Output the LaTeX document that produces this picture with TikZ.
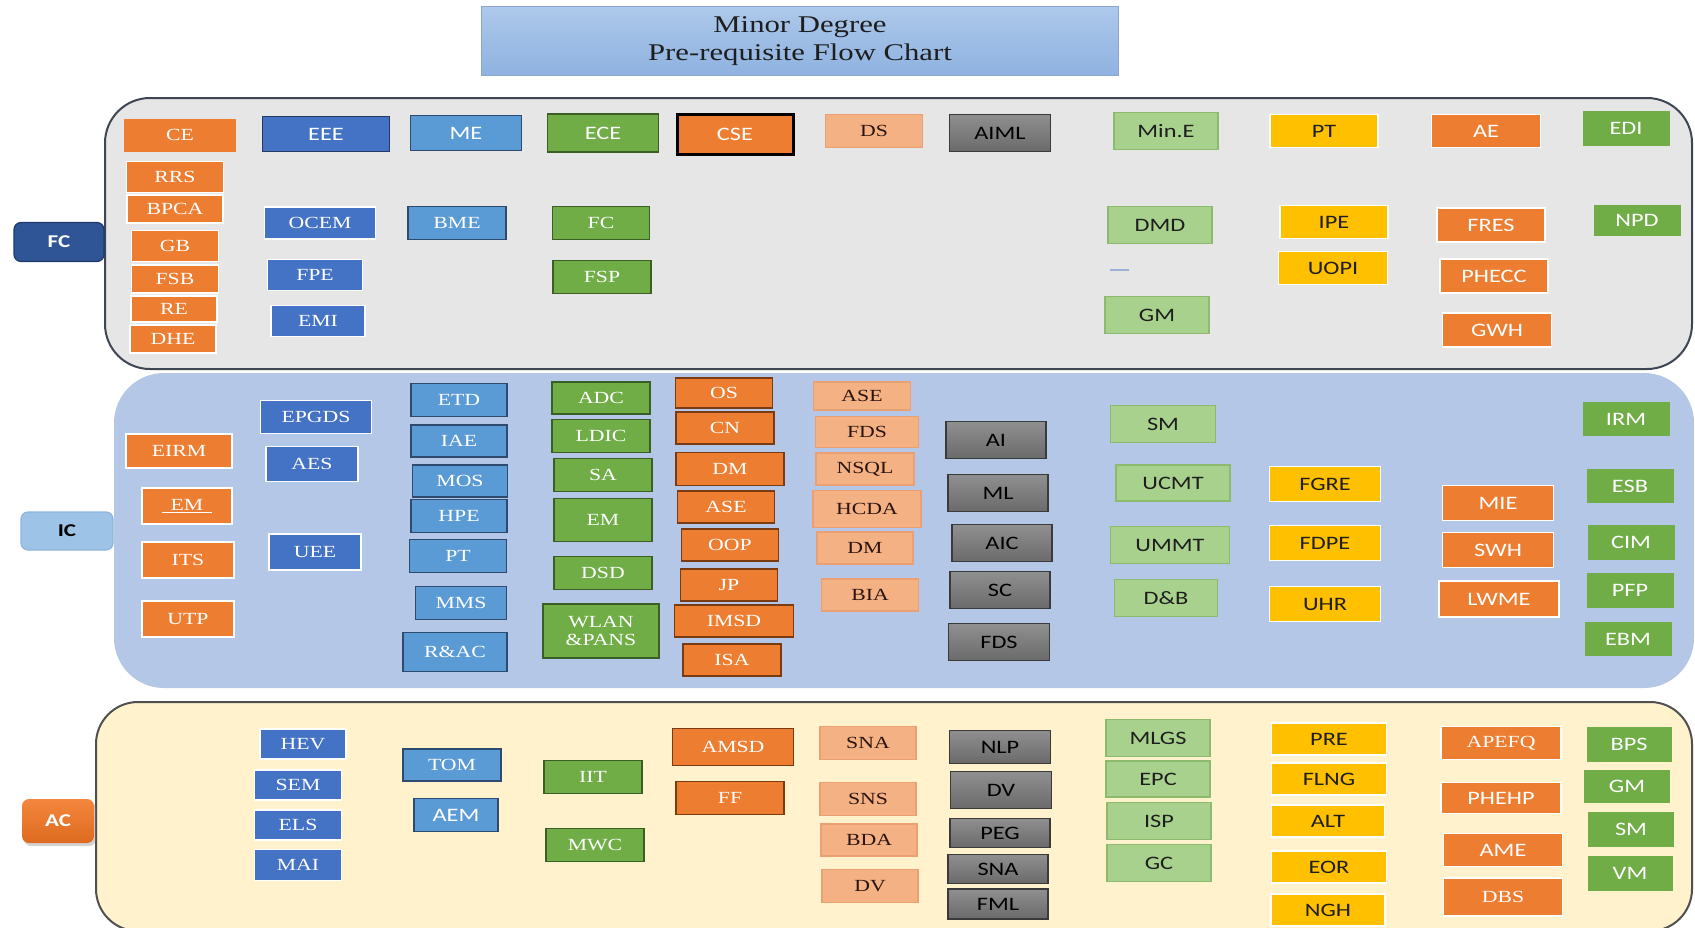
\documentclass[tikz,border=0pt]{standalone}
\usepackage{fontspec}
\usepackage{graphicx}
\setmainfont{Liberation Serif}
\newfontfamily\calfont{Carlito}
\usetikzlibrary{shadows}
\definecolor{Org}{HTML}{ED7D31}
\definecolor{OrgDk}{HTML}{7A3B12}
\definecolor{Blu}{HTML}{4472C4}
\definecolor{BluDk}{HTML}{26395F}
\definecolor{MBlu}{HTML}{5B9BD5}
\definecolor{MBluDk}{HTML}{2E4A6E}
\definecolor{Grn}{HTML}{70AD47}
\definecolor{GrnDk}{HTML}{3B5E25}
\definecolor{Pch}{HTML}{F4B183}
\definecolor{PchDk}{HTML}{EBA074}
\definecolor{PchTxt}{HTML}{2A1410}
\definecolor{GryT}{HTML}{8F8F8F}
\definecolor{GryB}{HTML}{6A6A6A}
\definecolor{GryDk}{HTML}{3A3A3A}
\definecolor{LGrn}{HTML}{A9D18E}
\definecolor{LGrnDk}{HTML}{8CBB6E}
\definecolor{Ylw}{HTML}{FFC000}
\definecolor{Ink}{HTML}{1E1E1E}
\definecolor{FCback}{HTML}{E7E6E6}
\definecolor{FCline}{HTML}{3E4654}
\definecolor{ICback}{HTML}{B4C7E7}
\definecolor{ACback}{HTML}{FFF2CC}
\definecolor{ACline}{HTML}{505050}
\definecolor{TitT}{HTML}{ADC8EA}
\definecolor{TitB}{HTML}{8EB2E0}
\definecolor{TitLine}{HTML}{8AA6CF}
\definecolor{FCblue}{HTML}{2F5597}
\definecolor{FCdk}{HTML}{1F3A68}
\definecolor{ICl}{HTML}{9DC3E6}
\definecolor{ICld}{HTML}{8FB4DA}
\definecolor{ACt}{HTML}{F4873E}
\definecolor{ACb}{HTML}{DD6A1E}
\definecolor{Dash}{HTML}{9BB0D8}
\newcommand{\wtxt}[1]{\scalebox{1.28}[1]{#1}}
\newcommand{\serifsz}{\fontsize{17}{19}\selectfont}
\newcommand{\sanssz}{\calfont\fontsize{19}{21}\selectfont}

\begin{document}
\begin{tikzpicture}[x=1pt,y=-1pt,
    bx/.style={rectangle,inner sep=0pt,line width=1.2pt},
    sf/.style={bx,font=\serifsz},
    ss/.style={bx,font=\sanssz},
    orw/.style={sf,fill=Org,draw=white,text=white},
    ord/.style={sf,fill=Org,draw=OrgDk,text=white},
    orsw/.style={ss,fill=Org,draw=white,text=white},
    blw/.style={sf,fill=Blu,draw=white,text=white},
    bld/.style={sf,fill=MBlu,draw=MBluDk,text=white},
    grd/.style={sf,fill=Grn,draw=GrnDk,text=white},
    pch/.style={sf,fill=Pch,draw=PchDk,text=PchTxt},
    gry/.style={ss,top color=GryT,bottom color=GryB,draw=GryDk,text=black},
    lgr/.style={ss,fill=LGrn,draw=LGrnDk,text=Ink},
    ylw/.style={ss,fill=Ylw,draw=white,text=Ink},
    gns/.style={ss,fill=Grn,text=white},
    lbl/.style={rectangle,rounded corners=7,inner sep=0pt,line width=1.2pt,font=\calfont\bfseries\fontsize{18}{20}\selectfont},
    titlebx/.style={rectangle,draw=TitLine,line width=0.8pt,top color=TitT,bottom color=TitB,align=center,text=Ink,font=\fontsize{24}{27.5}\selectfont}]
    \useasboundingbox (0,0) rectangle (1695,927);
    \draw [fill=FCback,draw=FCline,line width=2pt,rounded corners=45] (105,98) rectangle (1692,369);
    \fill [ICback,rounded corners=50] (114,373) rectangle (1694,688);
    \draw [fill=ACback,draw=ACline,line width=2pt,rounded corners=42] (96,702) rectangle (1692,931);
    \draw [Dash,line width=1.5pt] (1110,270) -- (1129,270);
    \node [titlebx,minimum width=637,minimum height=69] (title) at (800,41) {\wtxt{Minor Degree}\\ \wtxt{Pre-requisite Flow Chart}};
    \node [lbl,fill=FCblue,draw=FCdk,text=white,minimum width=90,minimum height=39] (fc) at (59,242) {\wtxt{FC}};
    \node [lbl,fill=ICl,draw=ICld,text=black,minimum width=92,minimum height=38] (ic) at (67,531) {\wtxt{IC}};
    \node [lbl,top color=ACt,bottom color=ACb,text=white,drop shadow={opacity=0.35,shadow xshift=2pt,shadow yshift=-3pt},minimum width=72,minimum height=44] (ac) at (58,821) {\wtxt{AC}};
    \node [orw,draw=none,minimum width=112,minimum height=33] (ce) at (180,135) {\wtxt{CE}};
    \foreach \nm/\x/\y/\w/\h/\t in {rrs/175/177/97/31/RRS,bpca/175/209/96/28/BPCA,gb/175/246/87/31/GB,fsb/175/279/87/28/FSB,re/174/309/86/26/RE,dhe/173/339/86/28/DHE,eirm/179/451/106/34/EIRM,its/188/560/92/36/ITS,utp/188/619/92/36/UTP,apefq/1501/743/120/33/APEFQ,dbs/1503/897/119/38/DBS}
        \node [orw,minimum width=\w,minimum height=\h] (\nm) at (\x,\y) {\wtxt{\t}};
    \node [orw,minimum width=90,minimum height=36] (emo) at (187,506) {\wtxt{\underline{\hspace{7pt}EM\hspace{7pt}}}};
    \foreach \nm/\x/\y/\w/\h/\t in {ocem/320/223/111/32/OCEM,fpe/315/275/95/31/FPE,emi/318/321/94/31/EMI,epgds/316/417/111/33/EPGDS,aes/312/464/92/35/AES,uee/315/552/92/36/UEE,hev/303/744/86/30/HEV,sem/298/785/87/30/SEM,els/298/825/87/30/ELS,mai/298/865/87/31/MAI}
        \node [blw,minimum width=\w,minimum height=\h] (\nm) at (\x,\y) {\wtxt{\t}};
    \node [ss,fill=Blu,draw=BluDk,text=white,minimum width=127,minimum height=35] (eee) at (326,134) {\wtxt{EEE}};
    \node [bld,font=\sanssz,minimum width=111,minimum height=35] (me) at (466,133) {\wtxt{ME}};
    \node [bld,font=\sanssz,minimum width=84,minimum height=33] (aem) at (456,815) {\wtxt{AEM}};
    \foreach \nm/\x/\y/\w/\h/\t in {bme/457/223/98/33/BME,etd/459/400/96/33/ETD,iae/459/441/96/32/IAE,mos/460/481/95/32/MOS,hpe/459/516/96/33/HPE,pti/458/556/97/33/PT,mms/461/603/91/33/MMS,rac/455/652/104/39/R\&AC,tom/452/765/98/32/TOM}
        \node [bld,minimum width=\w,minimum height=\h] (\nm) at (\x,\y) {\wtxt{\t}};
    \node [grd,font=\sanssz,minimum width=111,minimum height=38] (ece) at (603,133) {\wtxt{ECE}};
    \foreach \nm/\x/\y/\w/\h/\t in {fcg/601/223/97/33/FC,fsp/602/277/98/33/FSP,adc/601/398/98/32/ADC,ldic/601/436/98/33/LDIC,sa/603/475/98/33/SA,emg/603/520/98/43/EM,dsd/603/573/98/33/DSD,iit/593/777/98/33/IIT,mwc/595/845/98/33/MWC}
        \node [grd,minimum width=\w,minimum height=\h] (\nm) at (\x,\y) {\wtxt{\t}};
    \node [grd,align=center,font=\fontsize{17}{18}\selectfont,minimum width=116,minimum height=54] (wlan) at (601,631) {\wtxt{WLAN}\\ \wtxt{\&PANS}};
    \node [ss,fill=Org,draw=black,line width=3pt,text=white,minimum width=116,minimum height=40] (cse) at (735,134) {\wtxt{CSE}};
    \foreach \nm/\x/\y/\w/\h/\t in {os/724/393/97/30/OS,cn/725/428/98/32/CN,dmo/730/469/108/33/DM,aseo/726/507/97/32/ASE,oop/730/545/97/32/OOP,jp/729/585/97/32/JP,imsd/734/621/119/32/IMSD,isa/732/660/98/32/ISA,amsd/733/747/121/37/AMSD,ff/730/798/108/33/FF}
        \node [ord,minimum width=\w,minimum height=\h] (\nm) at (\x,\y) {\wtxt{\t}};
    \foreach \nm/\x/\y/\w/\h/\t in {ds/874/131/97/33/DS,asep/862/396/97/28/ASE,fdsp/867/432/103/31/FDS,nsql/865/469/98/32/NSQL,hcda/867/509/108/37/HCDA,dmp/865/548/96/32/DM,bia/870/595/97/32/BIA,snap/868/743/96/33/SNA,sns/868/799/96/33/SNS,bda/869/840/96/32/BDA,dvp/870/886/96/33/DV}
        \node [pch,minimum width=\w,minimum height=\h] (\nm) at (\x,\y) {\wtxt{\t}};
    \foreach \nm/\x/\y/\w/\h/\t in {aiml/1000/133/101/37/AIML,ai/996/440/100/37/AI,ml/998/493/100/37/ML,aic/1002/543/100/37/AIC,sc/1000/590/100/37/SC,fdsg/999/642/101/37/FDS,nlp/1000/747/101/33/NLP,dvg/1001/790/101/37/DV,peg/1000/833/100/29/PEG,snag/998/869/100/29/SNA,fml/998/904/100/30/FML}
        \node [gry,minimum width=\w,minimum height=\h] (\nm) at (\x,\y) {\wtxt{\t}};
    \foreach \nm/\x/\y/\w/\h/\t in {mine/1166/131/104/37/Min.E,dmd/1160/225/104/37/DMD,gmf/1157/315/104/37/GM,smi/1163/424/105/37/SM,ucmt/1173/483/114/36/UCMT,ummt/1170/545/119/37/UMMT,db/1166/598/103/37/D\&B,mlgs/1158/738/104/37/MLGS,epc/1158/779/104/36/EPC,isp/1159/821/104/37/ISP,gc/1159/863/104/37/GC}
        \node [lgr,minimum width=\w,minimum height=\h] (\nm) at (\x,\y) {\wtxt{\t}};
    \foreach \nm/\x/\y/\w/\h/\t in {pt/1324/131/108/33/PT,ipe/1334/222/108/33/IPE,uopi/1333/268/109/33/UOPI,fgre/1325/484/111/35/FGRE,fdpe/1325/543/111/35/FDPE,uhr/1325/604/111/35/UHR,pre/1329/739/115/32/PRE,flng/1329/779/115/32/FLNG,alt/1328/821/113/32/ALT,eor/1329/867/115/32/EOR,ngh/1328/910/114/32/NGH}
        \node [ylw,minimum width=\w,minimum height=\h] (\nm) at (\x,\y) {\wtxt{\t}};
    \foreach \nm/\x/\y/\w/\h/\t in {ae/1486/131/109/33/AE,fres/1491/225/108/34/FRES,phecc/1494/276/108/34/PHECC,gwh/1497/330/109/34/GWH,mie/1498/503/111/35/MIE,swh/1498/550/111/35/SWH,lwme/1499/599/120/36/LWME,phehp/1501/798/120/31/PHEHP,ame/1503/850/119/33/AME}
        \node [orsw,minimum width=\w,minimum height=\h] (\nm) at (\x,\y) {\wtxt{\t}};
    \foreach \nm/\x/\y/\w/\h/\t in {edi/1626/128/87/35/EDI,npd/1637/220/87/31/NPD,irm/1626/419/87/34/IRM,esb/1630/486/87/34/ESB,cim/1631/542/87/35/CIM,pfp/1630/590/87/35/PFP,ebm/1628/639/87/34/EBM,bps/1629/744/85/35/BPS,gma/1627/786/86/33/GM,sma/1631/829/86/35/SM,vm/1630/873/85/35/VM}
        \node [gns,minimum width=\w,minimum height=\h] (\nm) at (\x,\y) {\wtxt{\t}};
\end{tikzpicture}
\end{document}
